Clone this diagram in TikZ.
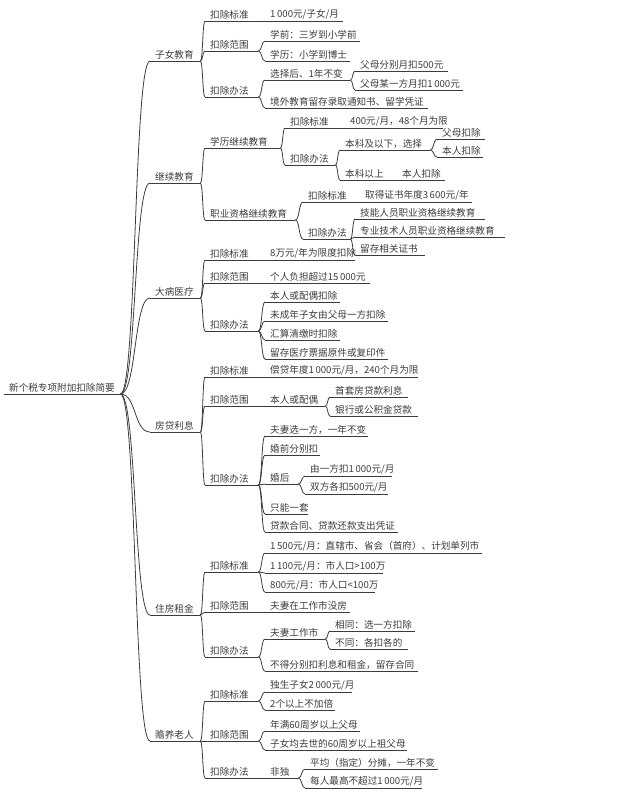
\documentclass[tikz,border=0pt]{standalone}
\usepackage{fontspec}
\setmainfont{Noto Sans CJK SC}
\usetikzlibrary{positioning, calc}
\definecolor{ink}{RGB}{60,60,60}

% one mind-map entry: name, x, y (line), x end, text
\newcommand{\mmn}[5]{%
  \pgfmathsetmacro{\mmw}{#4-#2}%
  \node[mm, text width=\mmw pt] (#1) at (#2,#3) {#5};}

\begin{document}
\begin{tikzpicture}[
  x=1pt, y=-1pt,
  mm/.style={anchor=south west, inner xsep=0pt, inner ysep=1.5pt, align=left,
             font=\fontsize{9.6pt}{11pt}\selectfont, text=ink,
             execute at begin node={\hspace*{5pt}},
             append after command={(\tikzlastnode.south west) edge[ul] (\tikzlastnode.south east)}},
  ul/.style={draw=ink, line width=0.8pt},
  br/.style={draw=ink, line width=0.8pt,
             to path={.. controls ($(\tikztostart)!0.55!(\tikztotarget|-\tikztostart)$)
                      and ($(\tikztotarget)!0.55!(\tikztostart|-\tikztotarget)$) .. (\tikztotarget)}},
]
\useasboundingbox (0,0) rectangle (629,793);

% root
\mmn{root}{4}{394}{120}{新个税专项附加扣除简要}

% level 1
\mmn{zn}{150}{61}{200}{子女教育}
\mmn{jx}{150}{183}{200}{继续教育}
\mmn{db}{150}{298}{200}{大病医疗}
\mmn{fd}{150}{432}{200}{房贷利息}
\mmn{zf}{150}{615}{200}{住房租金}
\mmn{sy}{150}{741}{200}{赡养老人}
\foreach \n in {zn,jx,db,fd,zf,sy} \draw[br] (root.south east) to (\n.south west);

% 子女教育
\mmn{znbz}{205}{21}{265}{扣除标准}
\mmn{znbzA}{265}{21}{343}{1\,000元/子女/月}
\mmn{znfw}{205}{51}{258}{扣除范围}
\mmn{znfwA}{265}{41}{360}{学前：三岁到小学前}
\mmn{znfwB}{265}{61}{350}{学历：小学到博士}
\mmn{znbf}{205}{97}{258}{扣除办法}
\mmn{znbfA}{265}{80}{350}{选择后、1年不变}
\mmn{znbfA1}{355}{71}{448}{父母分别月扣500元}
\mmn{znbfA2}{355}{90}{463}{父母某一方月扣1\,000元}
\mmn{znbfB}{265}{108}{428}{境外教育留存录取通知书、留学凭证}
\foreach \n in {znbz,znfw,znbf} \draw[br] (zn.south east) to (\n.south west);
\draw[br] (znbz.south east) to (znbzA.south west);
\foreach \n in {znfwA,znfwB} \draw[br] (znfw.south east) to (\n.south west);
\foreach \n in {znbfA,znbfB} \draw[br] (znbf.south east) to (\n.south west);
\foreach \n in {znbfA1,znbfA2} \draw[br] (znbfA.south east) to (\n.south west);

% 继续教育
\mmn{xl}{205}{148}{280}{学历继续教育}
\mmn{xlbz}{285}{128}{345}{扣除标准}
\mmn{xlbzA}{345}{128}{443}{400元/月，48个月为限}
\mmn{xlbf}{285}{165}{335}{扣除办法}
\mmn{xlbfA}{340}{150}{430}{本科及以下，选择}
\mmn{xlbfA1}{437}{139}{485}{父母扣除}
\mmn{xlbfA2}{437}{157}{483}{本人扣除}
\mmn{xlbfB}{340}{180}{397}{本科以上}
\mmn{xlbfB1}{397}{180}{445}{本人扣除}
\mmn{zy}{205}{220}{295}{职业资格继续教育}
\mmn{zybz}{303}{202}{360}{扣除标准}
\mmn{zybzA}{360}{202}{472}{取得证书年度3\,600元/年}
\mmn{zybf}{303}{239}{350}{扣除办法}
\mmn{zybfA}{355}{219}{485}{技能人员职业资格继续教育}
\mmn{zybfB}{355}{237}{505}{专业技术人员职业资格继续教育}
\mmn{zybfC}{355}{255}{425}{留存相关证书}
\foreach \n in {xl,zy} \draw[br] (jx.south east) to (\n.south west);
\foreach \n in {xlbz,xlbf} \draw[br] (xl.south east) to (\n.south west);
\draw[br] (xlbz.south east) to (xlbzA.south west);
\foreach \n in {xlbfA,xlbfB} \draw[br] (xlbf.south east) to (\n.south west);
\foreach \n in {xlbfA1,xlbfA2} \draw[br] (xlbfA.south east) to (\n.south west);
\draw[br] (xlbfB.south east) to (xlbfB1.south west);
\foreach \n in {zybz,zybf} \draw[br] (zy.south east) to (\n.south west);
\draw[br] (zybz.south east) to (zybzA.south west);
\foreach \n in {zybfA,zybfB,zybfC} \draw[br] (zybf.south east) to (\n.south west);

% 大病医疗
\mmn{dbbz}{205}{260}{265}{扣除标准}
\mmn{dbbzA}{265}{260}{355}{8万元/年为限度扣除}
\mmn{dbfw}{205}{283}{265}{扣除范围}
\mmn{dbfwA}{265}{283}{370}{个人负担超过15\,000元}
\mmn{dbbf}{205}{331}{258}{扣除办法}
\mmn{dbbfA}{265}{302}{340}{本人或配偶扣除}
\mmn{dbbfB}{265}{321}{388}{未成年子女由父母一方扣除}
\mmn{dbbfC}{265}{340}{340}{汇算清缴时扣除}
\mmn{dbbfD}{265}{359}{388}{留存医疗票据原件或复印件}
\foreach \n in {dbbz,dbfw,dbbf} \draw[br] (db.south east) to (\n.south west);
\draw[br] (dbbz.south east) to (dbbzA.south west);
\draw[br] (dbfw.south east) to (dbfwA.south west);
\foreach \n in {dbbfA,dbbfB,dbbfC,dbbfD} \draw[br] (dbbf.south east) to (\n.south west);

% 房贷利息
\mmn{fdbz}{205}{377}{265}{扣除标准}
\mmn{fdbzA}{265}{377}{418}{偿贷年度1\,000元/月，240个月为限}
\mmn{fdfw}{205}{406}{265}{扣除范围}
\mmn{fdfwA}{265}{406}{325}{本人或配偶}
\mmn{fdfwA1}{330}{397}{408}{首套房贷款利息}
\mmn{fdfwA2}{330}{416}{418}{银行或公积金贷款}
\mmn{fdbf}{205}{485}{258}{扣除办法}
\mmn{fdbfA}{265}{436}{368}{夫妻选一方，一年不变}
\mmn{fdbfB}{265}{455}{320}{婚前分别扣}
\mmn{fdbfC}{265}{484}{298}{婚后}
\mmn{fdbfC1}{305}{476}{392}{由一方扣1\,000元/月}
\mmn{fdbfC2}{305}{494}{388}{双方各扣500元/月}
\mmn{fdbfD}{265}{514}{308}{只能一套}
\mmn{fdbfE}{265}{532}{398}{贷款合同、贷款还款支出凭证}
\foreach \n in {fdbz,fdfw,fdbf} \draw[br] (fd.south east) to (\n.south west);
\draw[br] (fdbz.south east) to (fdbzA.south west);
\draw[br] (fdfw.south east) to (fdfwA.south west);
\foreach \n in {fdfwA1,fdfwA2} \draw[br] (fdfwA.south east) to (\n.south west);
\foreach \n in {fdbfA,fdbfB,fdbfC,fdbfD,fdbfE} \draw[br] (fdbf.south east) to (\n.south west);
\foreach \n in {fdbfC1,fdbfC2} \draw[br] (fdbfC.south east) to (\n.south west);

% 住房租金
\mmn{zfbz}{205}{572}{258}{扣除标准}
\mmn{zfbzA}{265}{553}{482}{1\,500元/月：直辖市、省会（首府）、计划单列市}
\mmn{zfbzB}{265}{573}{383}{1\,100元/月：市人口>100万}
\mmn{zfbzC}{265}{592}{375}{800元/月：市人口<100万}
\mmn{zffw}{205}{612}{265}{扣除范围}
\mmn{zffwA}{265}{612}{350}{夫妻在工作市没房}
\mmn{zfbf}{205}{657}{258}{扣除办法}
\mmn{zfbfA}{265}{639}{325}{夫妻工作市}
\mmn{zfbfA1}{330}{631}{415}{相同：选一方扣除}
\mmn{zfbfA2}{330}{649}{408}{不同：各扣各的}
\mmn{zfbfB}{265}{671}{418}{不得分别扣利息和租金，留存合同}
\foreach \n in {zfbz,zffw,zfbf} \draw[br] (zf.south east) to (\n.south west);
\foreach \n in {zfbzA,zfbzB,zfbzC} \draw[br] (zfbz.south east) to (\n.south west);
\draw[br] (zffw.south east) to (zffwA.south west);
\foreach \n in {zfbfA,zfbfB} \draw[br] (zfbf.south east) to (\n.south west);
\foreach \n in {zfbfA1,zfbfA2} \draw[br] (zfbfA.south east) to (\n.south west);

% 赡养老人
\mmn{sybz}{205}{701}{258}{扣除标准}
\mmn{sybzA}{265}{692}{352}{独生子女2\,000元/月}
\mmn{sybzB}{265}{710}{335}{2个以上不加倍}
\mmn{syfw}{205}{741}{258}{扣除范围}
\mmn{syfwA}{265}{731}{360}{年满60周岁以上父母}
\mmn{syfwB}{265}{750}{407}{子女均去世的60周岁以上祖父母}
\mmn{sybf}{205}{778}{258}{扣除办法}
\mmn{sybfA}{265}{778}{298}{非独}
\mmn{sybfA1}{305}{769}{438}{平均（指定）分摊，一年不变}
\mmn{sybfA2}{305}{788}{422}{每人最高不超过1\,000元/月}
\foreach \n in {sybz,syfw,sybf} \draw[br] (sy.south east) to (\n.south west);
\foreach \n in {sybzA,sybzB} \draw[br] (sybz.south east) to (\n.south west);
\foreach \n in {syfwA,syfwB} \draw[br] (syfw.south east) to (\n.south west);
\draw[br] (sybf.south east) to (sybfA.south west);
\foreach \n in {sybfA1,sybfA2} \draw[br] (sybfA.south east) to (\n.south west);
\end{tikzpicture}
\end{document}
